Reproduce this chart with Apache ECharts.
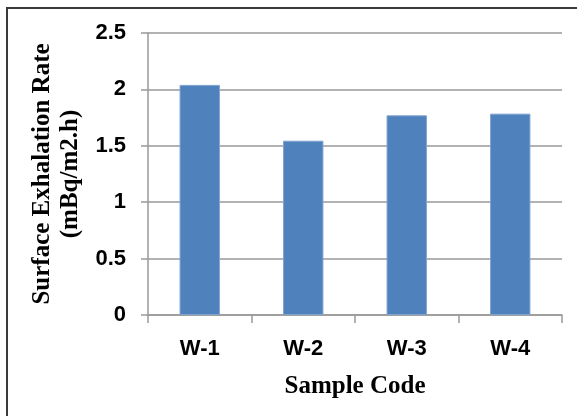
<!DOCTYPE html>
<html>
<head>
<meta charset="utf-8">
<script src="https://cdn.jsdelivr.net/npm/echarts@6/dist/echarts.min.js"></script>
<style>
html,body{margin:0;padding:0;background:#fff;}
#chart{width:577px;height:416px;}
</style>
</head>
<body>
<div id="chart"></div>
<script>
var categories = ['W-1', 'W-2', 'W-3', 'W-4'];
var values = [2.04, 1.545, 1.77, 1.785];
var yTicks = { min: 0, max: 2.5, interval: 0.5 };
var xAxisTitle = 'Sample Code';
var yAxisTitle = 'Surface Exhalation Rate\n(mBq/m2.h)';

var chart = echarts.init(document.getElementById('chart'), null, { renderer: 'canvas' });
chart.setOption({
  animation: false,
  backgroundColor: '#ffffff',
  graphic: [{
    type: 'rect',
    shape: { x: 7, y: 8, width: 700, height: 600 },
    style: { fill: 'none', stroke: '#3a3a3a', lineWidth: 2 },
    z: -1
  }],
  grid: { left: 148, right: 15, top: 33, bottom: 101 },
  xAxis: {
    type: 'category',
    data: categories,
    name: xAxisTitle,
    nameLocation: 'middle',
    nameGap: 59,
    nameTextStyle: { fontFamily: 'Liberation Serif', fontWeight: 'bold', fontSize: 25, color: '#000' },
    axisLine: { lineStyle: { color: '#999', width: 1.5 } },
    axisTick: { show: true, alignWithLabel: false, length: 8, lineStyle: { color: '#999', width: 1.5 } },
    axisLabel: { margin: 23, fontFamily: 'Liberation Sans', fontWeight: 'bold', fontSize: 22, color: '#000' }
  },
  yAxis: {
    type: 'value',
    min: yTicks.min,
    max: yTicks.max,
    interval: yTicks.interval,
    name: yAxisTitle,
    nameLocation: 'middle',
    nameGap: 60,
    nameTextStyle: { fontFamily: 'Liberation Serif', fontWeight: 'bold', fontSize: 25, lineHeight: 28, color: '#000' },
    axisLine: { show: true, lineStyle: { color: '#999', width: 1.5 } },
    axisTick: { show: true, length: 7, lineStyle: { color: '#999', width: 1.5 } },
    axisLabel: { margin: 22, fontFamily: 'Liberation Sans', fontWeight: 'bold', fontSize: 22, color: '#000' },
    splitLine: { show: true, lineStyle: { color: '#999', width: 1.5 } }
  },
  series: [{
    type: 'bar',
    data: values,
    barWidth: '39%',
    itemStyle: { color: '#4F81BD', borderColor: '#7FA3D0', borderWidth: 1 }
  }]
});
</script>
</body>
</html>
